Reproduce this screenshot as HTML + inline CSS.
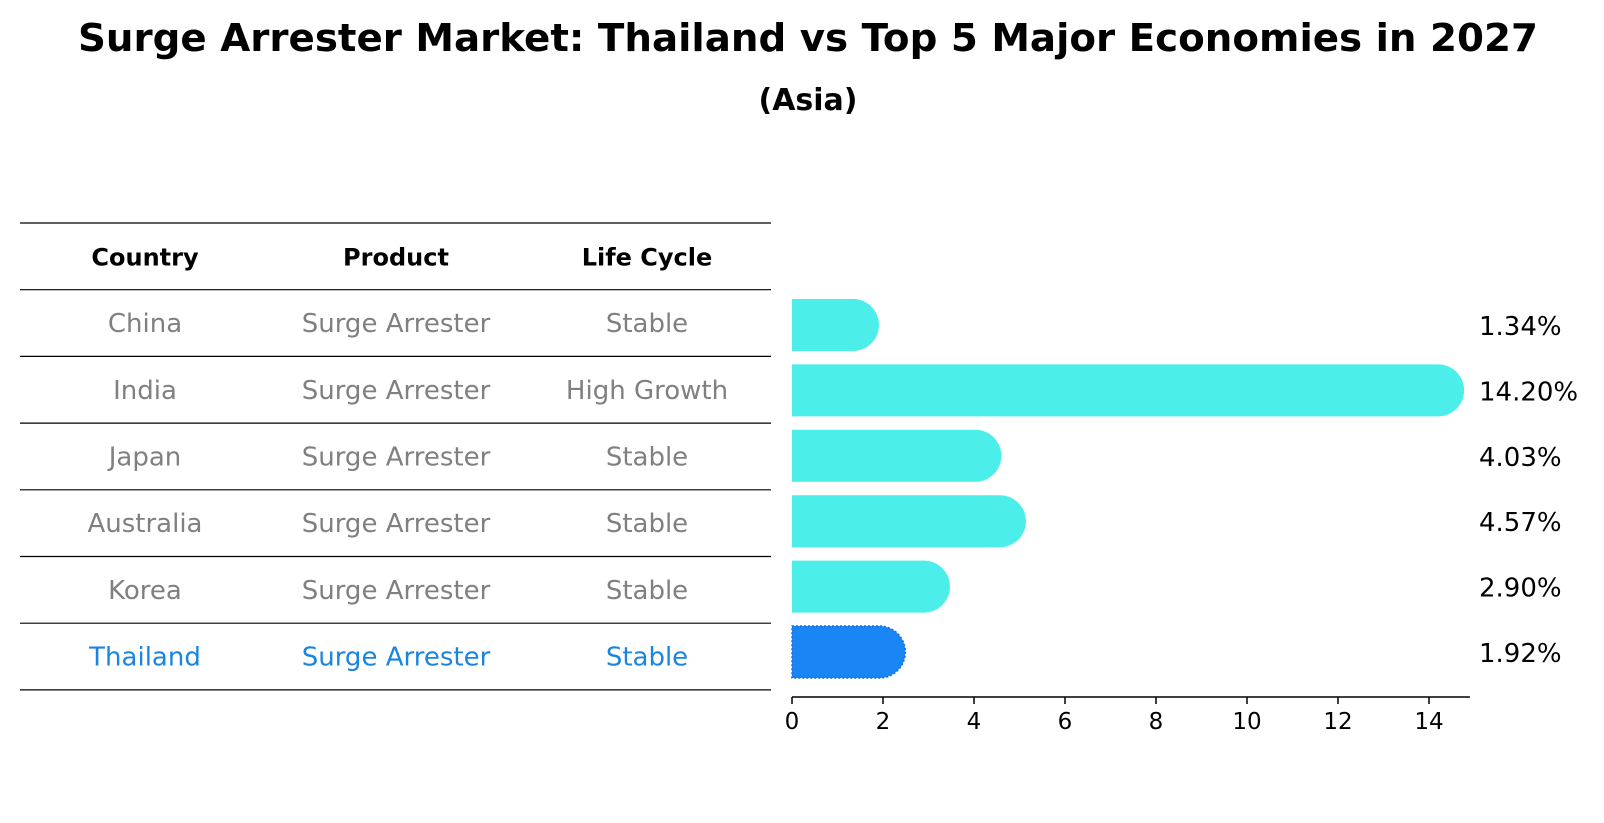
<!DOCTYPE html>
<html><head><meta charset="utf-8"><style>
body{margin:0;background:#fff}
svg{display:block;font-family:"DejaVu Sans","Liberation Sans",sans-serif}
</style></head><body>
<svg id="chart" width="1604" height="823" viewBox="0 0 1604 823">
<text x="808" y="51" text-anchor="middle" font-size="38" font-weight="bold" textLength="1460" lengthAdjust="spacingAndGlyphs">Surge Arrester Market: Thailand vs Top 5 Major Economies in 2027</text>
<text x="808" y="110" text-anchor="middle" font-size="30" font-weight="bold">(Asia)</text>
<g id="table"></g>
<g id="bars"></g>
</svg>
<script>
const countries=["China","India","Japan","Australia","Korea","Thailand"];
const products=["Surge Arrester","Surge Arrester","Surge Arrester","Surge Arrester","Surge Arrester","Surge Arrester"];
const lifeCycles=["Stable","High Growth","Stable","Stable","Stable","Stable"];
const values=[1.34,14.20,4.03,4.57,2.90,1.92];
const ticks=[0,2,4,6,8,10,12,14];
const NS="http://www.w3.org/2000/svg";
function mk(t,a,p){const e=document.createElementNS(NS,t);for(const k in a)e.setAttribute(k,a[k]);p.appendChild(e);return e;}
const tbl=document.getElementById('table'),bg=document.getElementById('bars');
const rowY0=223,rowH=66.7,colX=[145,396,647];
function ly(i){return rowY0+i*rowH;}
for(let i=0;i<=countries.length+1;i++){
 const l=mk('line',{x1:20,x2:771,y1:ly(i),y2:ly(i),stroke:'#000','stroke-width':1.2},tbl);
 
 
}
["Country","Product","Life Cycle"].forEach((h,j)=>{
 const t=mk('text',{x:colX[j],y:ly(0)+rowH/2+9,'text-anchor':'middle','font-size':24,'font-weight':'bold'},tbl);
 t.textContent=h;
 
 
});
countries.forEach((c,i)=>{
 const col=c==="Thailand"?"#1a85e0":"#808080";
 [c,products[i],lifeCycles[i]].forEach((v,j)=>{
  const t=mk('text',{x:colX[j],y:ly(i+1)+rowH/2+9,'text-anchor':'middle','font-size':26,fill:col},tbl);
  t.textContent=v;
  
  
 });
});
const x0=792,pxPer=45.5,axisY=697,barH=52;
function xs(v){return x0+v*pxPer;}
function yc(i){return 325+i*65.4;}
const ax=mk('line',{x1:x0,x2:xs(14.9),y1:axisY,y2:axisY,stroke:'#000','stroke-width':1.5},bg);


ticks.forEach(t=>{
 const tk=mk('line',{x1:xs(t),x2:xs(t),y1:axisY,y2:axisY+7,stroke:'#000','stroke-width':1.5},bg);
 
 
 const lb=mk('text',{x:xs(t),y:axisY+32,'text-anchor':'middle','font-size':23},bg);
 lb.textContent=t;
 
 
});
values.forEach((v,i)=>{
 const th=countries[i]==="Thailand";
 const col=th?"#1a85f5":"#4beee8";
 const y=yc(i),r=barH/2;
 const d=`M${x0},${y-r} L${xs(v)},${y-r} A${r},${r} 0 0 1 ${xs(v)},${y+r} L${x0},${y+r} Z`;
 const p=mk('path',{d:d,fill:col},bg);
 if(th){p.setAttribute('stroke','#1a6fd8');p.setAttribute('stroke-dasharray','2,2');p.setAttribute('stroke-width','1.5');}
 
 
 const lb=mk('text',{x:1479,y:y+10,'font-size':26},bg);
 lb.textContent=v.toFixed(2)+"%";
 
 
});
</script>
</body></html>
